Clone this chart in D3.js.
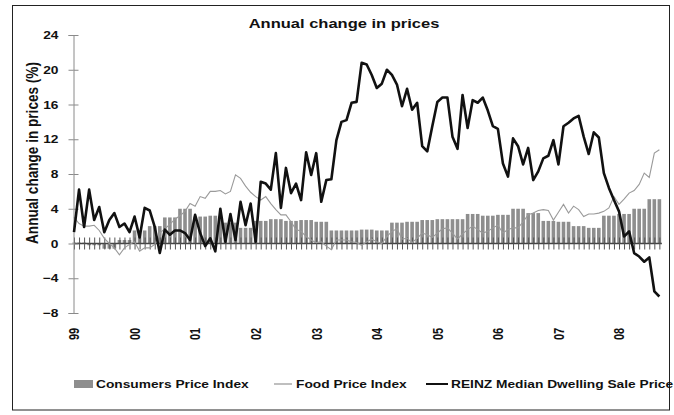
<!DOCTYPE html>
<html><head><meta charset="utf-8">
<script src="https://cdn.jsdelivr.net/npm/d3@7"></script>
<style>
html,body{margin:0;padding:0;background:#fff;}
svg text{font-family:"Liberation Sans",Arial,sans-serif;font-weight:bold;fill:#111;}
</style></head>
<body><svg id="c" width="674" height="415"></svg>
<script>
// ---- data ----
const yearLabels = ["99","00","01","02","03","04","05","06","07","08"];
const yTicks = [-8,-4,0,4,8,12,16,20,24];
// CPI annual % change, quarterly (Mar-1999 .. Sep-2008)
const cpiQuarterly = [0.1,-0.2,-0.6,0.4, 1.5,2.0,3.0,4.0, 3.1,3.2,2.4,1.8, 2.6,2.8,2.6,2.7,
  2.5,1.5,1.5,1.6, 1.5,2.4,2.5,2.7, 2.8,2.8,3.4,3.2, 3.3,4.0,3.5,2.6, 2.5,2.0,1.8,3.2, 3.4,4.0,5.1];
// Food Price Index annual % change, monthly (Jan-1999 .. Sep-2008)
const foodPrice = [3.0,2.3,2.0,2.0,2.1,1.5,0.6,0.0,-0.5,-1.3,-0.5,-0.1,
  0.2,-0.9,-0.5,-0.5,-0.1,1.2,1.7,2.2,2.8,3.2,3.7,4.6,
  4.3,5.4,5.2,6.0,6.0,6.1,5.7,6.0,7.9,7.5,6.6,5.9,
  5.4,5.0,5.4,4.6,3.9,3.3,3.3,2.5,1.6,1.4,0.8,0.4,
  0.1,0.2,-0.3,-0.7,0.4,0.4,0.4,0.2,0.1,-0.2,0.2,0.5,
  0.2,0.0,0.8,1.4,1.7,0.5,0.6,0.1,0.6,1.2,1.0,0.7,
  1.2,1.7,1.8,1.2,0.5,1.1,1.6,2.0,1.6,1.2,1.4,1.8,
  2.1,1.2,1.6,1.8,1.8,2.5,3.3,3.5,3.8,3.9,3.8,2.7,
  3.6,4.5,3.5,4.3,3.9,3.1,3.4,3.4,3.5,3.7,4.1,5.4,
  4.5,5.1,5.8,6.1,6.8,8.1,7.6,10.4,10.8];
// REINZ median dwelling sale price annual % change, monthly
const reinzPrice = [1.3,6.2,1.9,6.2,2.7,4.2,1.3,2.7,3.5,1.9,2.3,1.3,
  3.1,0.7,4.1,3.8,1.9,-1.1,1.6,1.0,1.5,1.5,1.2,0.4,
  3.3,1.2,-0.3,0.6,-0.9,4.0,0.2,3.4,0.4,4.8,2.1,4.6,
  0.2,7.1,6.9,6.2,10.4,4.1,8.7,5.8,6.9,5.0,10.5,7.9,
  10.4,4.8,7.3,7.4,11.9,14.0,14.2,16.2,16.3,20.8,20.6,19.4,
  17.9,18.4,20.0,19.4,18.3,15.8,17.8,15.4,16.2,11.2,10.6,13.5,
  16.3,16.8,16.8,12.3,10.9,17.1,13.3,16.5,16.2,16.8,15.3,13.5,
  13.2,9.2,7.7,12.1,11.2,9.1,11.0,7.3,8.3,9.8,10.1,11.9,
  9.1,13.5,13.9,14.4,14.7,12.3,10.3,12.8,12.2,8.1,6.4,5.0,
  3.7,0.8,1.4,-1.1,-1.5,-2.1,-1.6,-5.5,-6.1];
const months = d3.range(reinzPrice.length); // month index from Jan-1999

// ---- drawing ----
const svg = d3.select("#c");
const SX = 1.25; // horizontal text stretch of the original
svg.append("rect").attr("x",12.5).attr("y",5.5).attr("width",657).attr("height",404.5)
  .attr("fill","#fff").attr("stroke","#222").attr("stroke-width",1);

const x = d3.scaleLinear().domain([0,108]).range([74,619]);
const y = d3.scaleLinear().domain([-8,24]).range([313,35]);
const bw = 3.6;

// bars
svg.append("g").selectAll("rect").data(months).join("rect")
  .attr("x", i => x(i) - bw/2)
  .attr("width", bw)
  .attr("y", i => y(Math.max(0, cpiQuarterly[Math.floor(i/3)])))
  .attr("height", i => Math.abs(y(cpiQuarterly[Math.floor(i/3)]) - y(0)))
  .attr("fill", "#8e8e8e");

// zero axis with monthly ticks
const zero = svg.append("g").attr("transform", `translate(0,${y(0)})`);
zero.append("line").attr("x1", x(0)).attr("x2", x(months.length-1)+2.5)
  .attr("stroke","#444").attr("stroke-width",1.5);
const tb = d3.axisBottom(x).tickValues(months).tickSize(6).tickFormat("");
const tt = d3.axisTop(x).tickValues(months).tickSize(6).tickFormat("");
zero.append("g").call(tb).call(g=>g.select(".domain").remove())
  .selectAll("line").attr("stroke","#555");
zero.append("g").call(tt).call(g=>g.select(".domain").remove())
  .selectAll("line").attr("stroke","#555");

// y axis
const ya = svg.append("g").attr("transform","translate(73.5,0)");
ya.call(d3.axisLeft(y).tickValues(yTicks).tickSize(5).tickFormat(d3.format("d")))
  .call(g=>g.select(".domain").attr("stroke","#8a8a8a"))
  .call(g=>g.selectAll(".tick line").attr("stroke","#8a8a8a"))
  .call(g=>g.selectAll(".tick text").attr("x",-12).attr("dy","0.34em")
     .attr("transform",`scale(${SX},1)`).style("font-size","11px")
     .style("font-family",'"Liberation Sans",Arial,sans-serif').style("font-weight","bold").attr("fill","#111"));
ya.append("g").call(d3.axisRight(y).tickValues(yTicks).tickSize(5).tickFormat(""))
  .call(g=>g.select(".domain").remove())
  .selectAll("line").attr("stroke","#8a8a8a");

// x labels
const xa = svg.append("g").attr("transform",`translate(0,${y(-8)})`);
xa.call(d3.axisBottom(x).tickValues(d3.range(0,109,12)).tickSize(0)
    .tickFormat((d,i)=>yearLabels[i]))
  .call(g=>g.select(".domain").remove())
  .call(g=>g.selectAll(".tick text").attr("y",0).attr("dy","0.35em")
     .attr("text-anchor","middle")
     .attr("transform",`translate(0,21) scale(${SX},1) rotate(-90)`)
     .style("font-size","11px").style("font-family",'"Liberation Sans",Arial,sans-serif')
     .style("font-weight","bold").attr("fill","#111"));

// lines
const line = arr => d3.line().x((d,i)=>x(i)).y(d=>y(d))(arr);
svg.append("path").attr("d", line(foodPrice)).attr("fill","none")
  .attr("stroke","#9a9a9a").attr("stroke-width",1.1);
svg.append("path").attr("d", line(reinzPrice)).attr("fill","none")
  .attr("stroke","#111").attr("stroke-width",2.6).attr("stroke-linejoin","round");

// texts
function txt(x0,y0,s,size,anchor,rot){
  return svg.append("text").attr("transform",`translate(${x0},${y0}) scale(${SX},1)`+(rot?` rotate(${rot})`:""))
    .attr("text-anchor",anchor||"start").style("font-size",size+"px").text(s);
}
txt(344,28,"Annual change in prices",13.2,"middle");
txt(38,153,"Annual change in prices (%)",13.6,"middle",-90);

// legend
svg.append("rect").attr("x",74).attr("y",380).attr("width",19).attr("height",8).attr("fill","#8e8e8e");
txt(96,388,"Consumers Price Index",11,"start");
svg.append("line").attr("x1",274).attr("x2",292).attr("y1",384).attr("y2",384).attr("stroke","#aaa").attr("stroke-width",1.5);
txt(296,388,"Food Price Index",11,"start");
svg.append("line").attr("x1",426).attr("x2",448).attr("y1",384).attr("y2",384).attr("stroke","#111").attr("stroke-width",2);
txt(451,388,"REINZ Median Dwelling Sale Price",11,"start");
</script></body></html>
